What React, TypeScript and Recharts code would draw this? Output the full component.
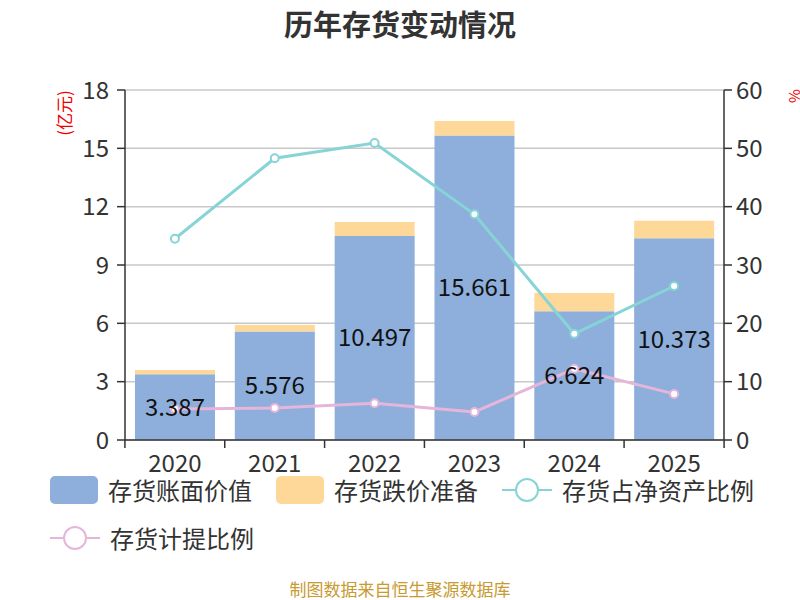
import { Bar, CartesianGrid, ComposedChart, LabelList, Line, XAxis, YAxis } from "recharts"

const years = ["2020", "2021", "2022", "2023", "2024", "2025"]
const bookValue = [3.387, 5.576, 10.497, 15.661, 6.624, 10.373]
const reserve = [0.21, 0.34, 0.72, 0.75, 0.94, 0.9]
const netAssetRatio = [34.5, 48.3, 50.9, 38.7, 18.2, 26.4]
const provisionRatio = [5.3, 5.5, 6.3, 4.8, 12.2, 7.9]
const leftTicks = [0, 3, 6, 9, 12, 15, 18]
const rightTicks = [0, 10, 20, 30, 40, 50, 60]

const data = years.map((year, i) => ({
  year,
  bookValue: bookValue[i],
  reserve: reserve[i],
  netAssetRatio: netAssetRatio[i],
  provisionRatio: provisionRatio[i],
}))

const font = '"Noto Sans CJK SC", "Noto Sans", sans-serif'
const BLUE = "#8eaedc"
const ORANGE = "#fed899"
const TEAL = "#86d4d6"
const PINK = "#e6b6da"

const legendItems = [
  { name: "存货账面价值", color: BLUE, kind: "bar" },
  { name: "存货跌价准备", color: ORANGE, kind: "bar" },
  { name: "存货占净资产比例", color: TEAL, kind: "line" },
  { name: "存货计提比例", color: PINK, kind: "line" },
]

function YearTick(props: any) {
  const { x, y, payload, index } = props
  const half = 50
  return (
    <g>
      <line x1={x - half} y1={y - 8} x2={x - half} y2={y} stroke="#333" strokeWidth={1.5} />
      {index === years.length - 1 && (
        <line x1={x + half} y1={y - 8} x2={x + half} y2={y} stroke="#333" strokeWidth={1.5} />
      )}
      <text x={x} y={y + 24} textAnchor="middle" fontSize={24} fill="#333" fontFamily={font}>
        {payload.value}
      </text>
    </g>
  )
}

function LegendIcon({ color, kind }: { color: string; kind: string }) {
  if (kind === "bar") {
    return <div style={{ width: 48, height: 28, background: color, borderRadius: 5 }} />
  }
  return (
    <svg width={50} height={28}>
      <line x1={0} y1={14} x2={50} y2={14} stroke={color} strokeWidth={2} />
      <circle cx={25} cy={14} r={11} fill="#fff" stroke={color} strokeWidth={2} />
    </svg>
  )
}

export default function App() {
  return (
    <div style={{ position: "absolute", left: 0, top: 0, width: 800, height: 600, overflow: "hidden", fontFamily: font, background: "#fff" }}>
      <div style={{ position: "absolute", top: 2, width: 800, textAlign: "center", fontSize: 29, fontWeight: 700, color: "#333" }}>
        历年存货变动情况
      </div>
      <ComposedChart
        width={800}
        height={600}
        data={data}
        margin={{ top: 90, right: 16, left: 55, bottom: 130 }}
        barCategoryGap="10%"
      >
        <CartesianGrid yAxisId="left" vertical={false} stroke="#c8c8c8" strokeWidth={1.5} />
        <XAxis
          dataKey="year"
          height={30}
          tickLine={false}
          axisLine={{ stroke: "#333", strokeWidth: 1.5 }}
          tick={<YearTick />}
          interval={0}
        />
        <YAxis
          yAxisId="left"
          width={70}
          domain={[0, 18]}
          ticks={leftTicks}
          tickSize={8}
          tickMargin={8}
          axisLine={{ stroke: "#333", strokeWidth: 1.5 }}
          tickLine={{ stroke: "#333", strokeWidth: 1.5 }}
          tick={{ fontSize: 24, fill: "#333", fontFamily: font }}
        />
        <YAxis
          yAxisId="right"
          orientation="right"
          width={60}
          domain={[0, 60]}
          ticks={rightTicks}
          tickSize={8}
          tickMargin={4}
          axisLine={{ stroke: "#333", strokeWidth: 1.5 }}
          tickLine={{ stroke: "#333", strokeWidth: 1.5 }}
          tick={{ fontSize: 24, fill: "#333", fontFamily: font }}
        />
        <Bar yAxisId="left" dataKey="bookValue" stackId="a" fill={BLUE} isAnimationActive={false}>
          <LabelList dataKey="bookValue" position="center" fontSize={24} fill="#111" fontFamily={font} />
        </Bar>
        <Bar yAxisId="left" dataKey="reserve" stackId="a" fill={ORANGE} isAnimationActive={false} />
        <Line
          yAxisId="right"
          dataKey="netAssetRatio"
          stroke={TEAL}
          strokeWidth={3}
          dot={{ r: 4, fill: "#fff", stroke: TEAL, strokeWidth: 2 }}
          isAnimationActive={false}
        />
        <Line
          yAxisId="right"
          dataKey="provisionRatio"
          stroke={PINK}
          strokeWidth={3}
          dot={{ r: 4, fill: "#fff", stroke: PINK, strokeWidth: 2 }}
          isAnimationActive={false}
        />
        <text x={63} y={113} transform="rotate(-90 63 113)" textAnchor="middle" dominantBaseline="central" fontSize={17} fill="#e00" fontFamily={font}>
          (亿元)
        </text>
        <text x={793} y={96} transform="rotate(-90 793 96)" textAnchor="middle" dominantBaseline="central" fontSize={15} fill="#e00" fontFamily={font}>
          %
        </text>
      </ComposedChart>
      <div style={{ position: "absolute", left: 50, top: 475, width: 740, display: "flex", flexWrap: "wrap", rowGap: 18, columnGap: 24 }}>
        {legendItems.map((item) => (
          <div key={item.name} style={{ display: "flex", alignItems: "center", gap: 10, height: 30 }}>
            <LegendIcon color={item.color} kind={item.kind} />
            <span style={{ fontSize: 24, color: "#333", lineHeight: "30px" }}>{item.name}</span>
          </div>
        ))}
      </div>
      <div style={{ position: "absolute", top: 578, width: 800, textAlign: "center", fontSize: 17, lineHeight: "22px", color: "#c89a30" }}>
        制图数据来自恒生聚源数据库
      </div>
    </div>
  )
}
